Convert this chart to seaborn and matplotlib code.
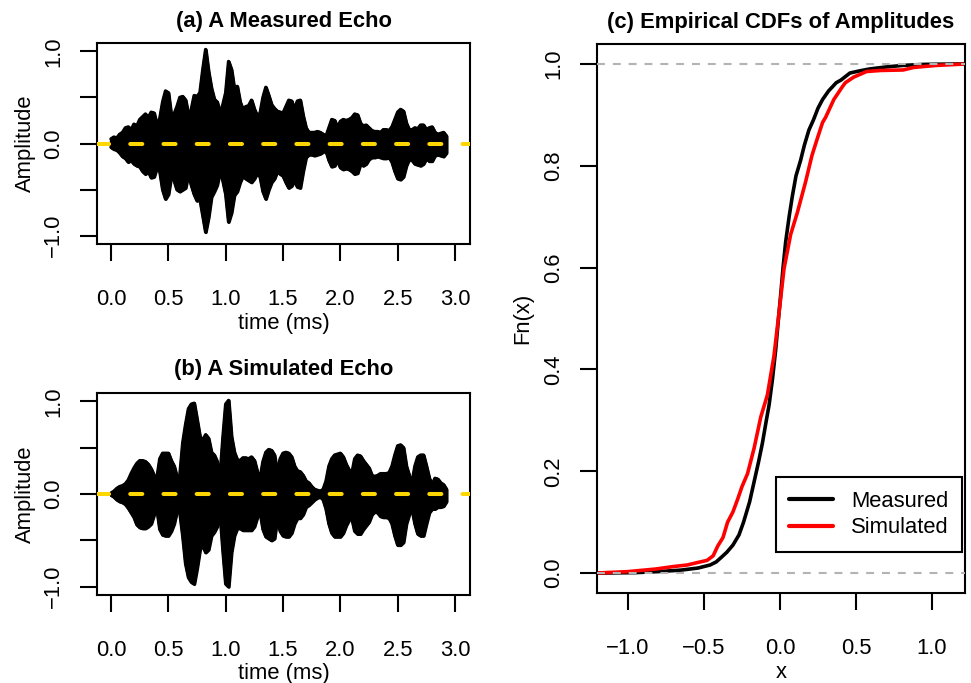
import matplotlib
matplotlib.use("Agg")
import matplotlib.pyplot as plt
import numpy as np
import seaborn as sns

# sample times of the echo envelopes (ms)
time_ms = np.round(np.arange(118) * 0.025, 3)

# envelope of the measured echo
measured_top = [
    0.05, 0.07, 0.06, 0.10, 0.12, 0.17, 0.18, 0.15, 0.21, 0.19,
    0.26, 0.29, 0.32, 0.28, 0.34, 0.33, 0.20, 0.27, 0.45, 0.57,
    0.55, 0.30, 0.32, 0.40, 0.50, 0.51, 0.47, 0.30, 0.37, 0.52,
    0.51, 0.55, 0.80, 1.02, 0.78, 0.60, 0.48, 0.45, 0.33, 0.42,
    0.55, 0.89, 0.80, 0.59, 0.62, 0.45, 0.37, 0.40, 0.41, 0.47,
    0.37, 0.30, 0.33, 0.50, 0.61, 0.52, 0.42, 0.38, 0.35, 0.34,
    0.33, 0.40, 0.47, 0.46, 0.37, 0.46, 0.47, 0.30, 0.17, 0.12,
    0.12, 0.12, 0.13, 0.12, 0.10, 0.08, 0.17, 0.26, 0.25, 0.17,
    0.24, 0.26, 0.25, 0.26, 0.28, 0.32, 0.31, 0.22, 0.19, 0.20,
    0.17, 0.14, 0.13, 0.13, 0.12, 0.15, 0.15, 0.14, 0.18, 0.26,
    0.34, 0.37, 0.35, 0.22, 0.15, 0.15, 0.17, 0.16, 0.20, 0.20,
    0.15, 0.17, 0.18, 0.12, 0.10, 0.11, 0.12, 0.08]
measured_bottom = [
    -0.04, -0.06, -0.07, -0.10, -0.14, -0.16, -0.20, -0.18, -0.22, -0.24,
    -0.25, -0.30, -0.33, -0.30, -0.37, -0.36, -0.26, -0.30, -0.50, -0.60,
    -0.55, -0.35, -0.40, -0.50, -0.52, -0.50, -0.48, -0.32, -0.45, -0.55,
    -0.62, -0.60, -0.78, -0.96, -0.80, -0.58, -0.52, -0.45, -0.30, -0.40,
    -0.55, -0.85, -0.75, -0.56, -0.52, -0.42, -0.35, -0.38, -0.40, -0.42,
    -0.38, -0.32, -0.36, -0.52, -0.60, -0.50, -0.42, -0.38, -0.30, -0.33,
    -0.35, -0.42, -0.48, -0.46, -0.40, -0.47, -0.48, -0.30, -0.15, -0.12,
    -0.12, -0.13, -0.12, -0.11, -0.09, -0.08, -0.18, -0.25, -0.24, -0.18,
    -0.26, -0.28, -0.27, -0.28, -0.30, -0.33, -0.32, -0.22, -0.24, -0.22,
    -0.17, -0.15, -0.15, -0.14, -0.15, -0.16, -0.16, -0.15, -0.20, -0.30,
    -0.38, -0.39, -0.36, -0.24, -0.17, -0.18, -0.22, -0.23, -0.24, -0.22,
    -0.16, -0.19, -0.19, -0.13, -0.12, -0.13, -0.14, -0.10]

# envelope of the simulated echo
simulated_top = [
    0.01, 0.03, 0.06, 0.08, 0.09, 0.11, 0.15, 0.22, 0.28, 0.33,
    0.36, 0.36, 0.35, 0.32, 0.27, 0.20, 0.17, 0.38, 0.44, 0.44,
    0.44, 0.36, 0.30, 0.18, 0.20, 0.55, 0.75, 0.92, 0.97, 0.98,
    0.80, 0.62, 0.58, 0.64, 0.60, 0.45, 0.42, 0.35, 0.17, 0.60,
    0.97, 1.01, 0.62, 0.45, 0.37, 0.36, 0.39, 0.39, 0.38, 0.40,
    0.36, 0.24, 0.17, 0.35, 0.45, 0.48, 0.47, 0.42, 0.22, 0.38,
    0.44, 0.45, 0.44, 0.40, 0.30, 0.25, 0.24, 0.20, 0.14, 0.12,
    0.08, 0.05, 0.04, 0.03, 0.05, 0.14, 0.30, 0.38, 0.42, 0.43,
    0.44, 0.40, 0.32, 0.26, 0.22, 0.38, 0.42, 0.41, 0.36, 0.32,
    0.28, 0.20, 0.19, 0.20, 0.22, 0.22, 0.22, 0.23, 0.30, 0.42,
    0.52, 0.53, 0.50, 0.30, 0.20, 0.12, 0.30, 0.40, 0.42, 0.42,
    0.30, 0.17, 0.10, 0.17, 0.16, 0.12, 0.10, 0.05]
simulated_bottom = [
    -0.01, -0.03, -0.06, -0.08, -0.09, -0.11, -0.15, -0.20, -0.25, -0.33,
    -0.36, -0.37, -0.37, -0.35, -0.32, -0.22, -0.16, -0.38, -0.44, -0.45,
    -0.45, -0.40, -0.32, -0.18, -0.20, -0.45, -0.75, -0.90, -0.95, -0.97,
    -0.80, -0.60, -0.55, -0.63, -0.60, -0.45, -0.41, -0.35, -0.19, -0.60,
    -0.97, -1.00, -0.63, -0.45, -0.37, -0.37, -0.39, -0.39, -0.39, -0.39,
    -0.35, -0.25, -0.19, -0.38, -0.46, -0.48, -0.50, -0.48, -0.25, -0.40,
    -0.45, -0.46, -0.46, -0.42, -0.32, -0.26, -0.26, -0.22, -0.14, -0.12,
    -0.09, -0.06, -0.04, -0.03, -0.06, -0.16, -0.32, -0.42, -0.46, -0.46,
    -0.46, -0.42, -0.34, -0.28, -0.26, -0.40, -0.43, -0.43, -0.38, -0.34,
    -0.30, -0.22, -0.19, -0.20, -0.24, -0.25, -0.25, -0.26, -0.32, -0.45,
    -0.55, -0.55, -0.52, -0.32, -0.22, -0.16, -0.32, -0.43, -0.45, -0.45,
    -0.32, -0.20, -0.16, -0.16, -0.14, -0.14, -0.13, -0.08]

# empirical CDFs (x, Fn(x))
measured_x = [-1.22, -0.95, -0.80, -0.65, -0.54, -0.46, -0.42, -0.39, -0.35, -0.31,
              -0.27, -0.24, -0.20, -0.17, -0.14, -0.116, -0.09, -0.072, -0.05, -0.028,
              -0.01, 0.004, 0.02, 0.037, 0.06, 0.081, 0.105, 0.135, 0.16, 0.19,
              0.22, 0.25, 0.28, 0.32, 0.37, 0.40, 0.46, 0.52, 0.59, 0.70,
              0.81, 0.95, 1.24]
measured_fn = [0.0, 0.001, 0.003, 0.006, 0.010, 0.016, 0.022, 0.030, 0.041, 0.055,
               0.075, 0.10, 0.14, 0.18, 0.22, 0.255, 0.30, 0.33, 0.38, 0.44,
               0.50, 0.545, 0.60, 0.65, 0.70, 0.74, 0.78, 0.81, 0.84, 0.87,
               0.89, 0.913, 0.93, 0.947, 0.963, 0.968, 0.982, 0.986, 0.990, 0.994,
               0.997, 0.999, 1.0]
simulated_x = [-1.22, -1.0, -0.82, -0.70, -0.61, -0.54, -0.48, -0.44, -0.41, -0.375,
               -0.345, -0.31, -0.28, -0.25, -0.214, -0.17, -0.127, -0.083, -0.04, -0.007,
               0.026, 0.07, 0.114, 0.168, 0.21, 0.245, 0.28, 0.30, 0.354, 0.41,
               0.43, 0.485, 0.57, 0.66, 0.81, 0.88, 1.03, 1.24]
simulated_fn = [0.0, 0.003, 0.008, 0.013, 0.016, 0.021, 0.025, 0.034, 0.053, 0.07,
                0.10, 0.12, 0.144, 0.17, 0.195, 0.246, 0.306, 0.35, 0.426, 0.51,
                0.597, 0.665, 0.708, 0.768, 0.82, 0.853, 0.885, 0.895, 0.93, 0.955,
                0.963, 0.974, 0.985, 0.987, 0.988, 0.993, 0.997, 1.0]

sns.set_style("ticks")
plt.rcParams["font.family"] = ["Liberation Sans", "DejaVu Sans"]
for key in ("text.color", "axes.labelcolor", "xtick.color", "ytick.color",
            "axes.edgecolor"):
    plt.rcParams[key] = "black"
FS = 15.8


def style_axes(ax):
    for s in ax.spines.values():
        s.set_visible(True)
        s.set_linewidth(1.5)
        s.set_color("black")
    ax.tick_params(bottom=True, left=True, direction="out", length=12.5,
                   width=1.5, labelsize=FS, color="black", labelcolor="black")
    ax.tick_params(axis="x", pad=20)
    ax.tick_params(axis="y", pad=11)
    for lab in ax.get_yticklabels():
        lab.set_rotation(90)
        lab.set_va("center")


def echo_panel(ax, top, bottom, title, xlab_y, title_y):
    ax.fill_between(time_ms, bottom, top, color="black", linewidth=2.4,
                    joinstyle="round")
    sns.lineplot(x=time_ms, y=top, ax=ax, color="black", lw=2.4, estimator=None,
                 solid_joinstyle="round", solid_capstyle="round")
    sns.lineplot(x=time_ms, y=bottom, ax=ax, color="black", lw=2.4, estimator=None,
                 solid_joinstyle="round", solid_capstyle="round")
    ax.axhline(0, color="#FFD700", lw=2.9, dashes=(3.0, 5.25),
               dash_capstyle="round", zorder=4)
    ax.set_xlim(-0.122, 3.131)
    ax.set_ylim(-1.09, 1.09)
    ax.set_xticks([0.0, 0.5, 1.0, 1.5, 2.0, 2.5, 3.0])
    ax.set_xticklabels(["0.0", "0.5", "1.0", "1.5", "2.0", "2.5", "3.0"])
    ax.set_yticks([-1.0, -0.5, 0.0, 0.5, 1.0])
    ax.set_yticklabels(["\u22121.0", "", "0.0", "", "1.0"])
    style_axes(ax)
    ax.set_xlabel("time (ms)", fontsize=FS)
    ax.xaxis.label.set_va("center")
    ax.xaxis.set_label_coords(0.5, xlab_y)
    ax.set_ylabel("Amplitude", fontsize=FS)
    ax.yaxis.label.set_va("center")
    ax.yaxis.set_label_coords(-0.193, 0.5)
    ax.text(0.5, title_y, title, transform=ax.transAxes, ha="center",
            va="center", fontsize=FS, fontweight="bold")


fig = plt.figure(figsize=(9.71, 6.83), dpi=100)
ax_a = fig.add_axes([97 / 971, 1 - 244 / 683, 373 / 971, 201 / 683])
ax_b = fig.add_axes([97 / 971, 1 - 595 / 683, 373 / 971, 202 / 683])
ax_c = fig.add_axes([597 / 971, 1 - 593 / 683, 368 / 971, 549 / 683])

echo_panel(ax_a, measured_top, measured_bottom, "(a) A Measured Echo", -0.395, 1.109)
echo_panel(ax_b, simulated_top, simulated_bottom, "(b) A Simulated Echo", -0.388, 1.114)

# (c) empirical CDFs
sns.lineplot(x=measured_x, y=measured_fn, ax=ax_c, color="black", lw=2.6,
             sort=False, estimator=None, label="Measured")
sns.lineplot(x=simulated_x, y=simulated_fn, ax=ax_c, color="#FF0000", lw=2.6,
             sort=False, estimator=None, label="Simulated")
for h in (0.0, 1.0):
    ax_c.axhline(h, color="#B3B3B3", lw=1.5, dashes=(3.8, 3.8), zorder=5)
ax_c.set_xlim(-1.204, 1.217)
ax_c.set_ylim(-0.039, 1.039)
ax_c.set_xticks([-1.0, -0.5, 0.0, 0.5, 1.0])
ax_c.set_xticklabels(["\u22121.0", "\u22120.5", "0.0", "0.5", "1.0"])
ax_c.set_yticks([0.0, 0.2, 0.4, 0.6, 0.8, 1.0])
ax_c.set_yticklabels(["0.0", "0.2", "0.4", "0.6", "0.8", "1.0"])
style_axes(ax_c)
ax_c.set_xlabel("x", fontsize=FS)
ax_c.xaxis.label.set_va("center")
ax_c.xaxis.set_label_coords(0.5, -0.145)
ax_c.set_ylabel("Fn(x)", fontsize=FS)
ax_c.yaxis.label.set_va("center")
ax_c.yaxis.set_label_coords(-0.201, 0.5)
ax_c.text(0.5, 1.040, "(c) Empirical CDFs of Amplitudes", transform=ax_c.transAxes,
          ha="center", va="center", fontsize=FS, fontweight="bold")

leg = ax_c.legend(loc="lower right", bbox_to_anchor=(0.992, 0.075), borderaxespad=0,
                  frameon=True, fancybox=False, framealpha=1, edgecolor="black",
                  fontsize=FS, handlelength=2.0, handletextpad=0.8,
                  borderpad=0.62, labelspacing=0.25)
leg.get_frame().set_linewidth(1.5)
for line in leg.get_lines():
    line.set_linewidth(3.0)

fig.savefig("out.png", dpi=100)
